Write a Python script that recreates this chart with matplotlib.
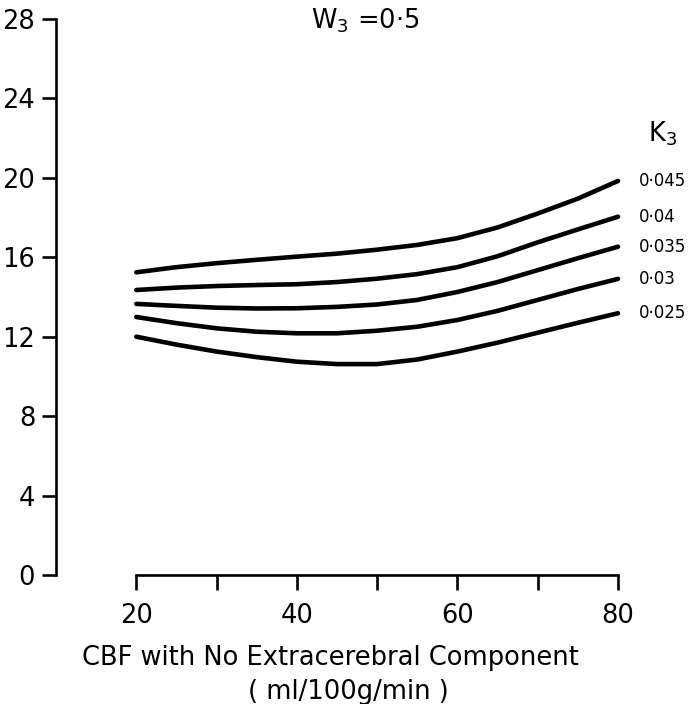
import numpy as np
import matplotlib
matplotlib.use("Agg")
import matplotlib.pyplot as plt

# =========================
# DONNÉES
# =========================

cbf = [20, 25, 30, 35, 40, 45, 50, 55, 60, 65, 70, 75, 80]

k3_labels = ["0·045", "0·04", "0·035", "0·03", "0·025"]

k3_0045 = [15.24, 15.50, 15.70, 15.87, 16.03, 16.18, 16.38, 16.62, 16.96, 17.50, 18.20, 18.95, 19.84]
k3_0040 = [14.35, 14.47, 14.55, 14.60, 14.64, 14.75, 14.92, 15.15, 15.50, 16.05, 16.75, 17.40, 18.04]
k3_0035 = [13.65, 13.55, 13.46, 13.42, 13.43, 13.50, 13.62, 13.85, 14.25, 14.75, 15.35, 15.95, 16.53]
k3_0030 = [12.99, 12.68, 12.42, 12.25, 12.17, 12.17, 12.30, 12.50, 12.84, 13.30, 13.85, 14.40, 14.91]
k3_0025 = [12.00, 11.60, 11.25, 10.97, 10.74, 10.62, 10.62, 10.85, 11.25, 11.70, 12.20, 12.70, 13.18]

series = [k3_0045, k3_0040, k3_0035, k3_0030, k3_0025]

y_ticks = [0, 4, 8, 12, 16, 20, 24, 28]
x_major = [20, 40, 60, 80]
x_minor = [30, 50, 70]

# =========================
# FIGURE
# =========================

plt.rcParams["font.family"] = ["DejaVu Sans"]
FS = 18.5

fig = plt.figure(figsize=(6.89, 7.04), dpi=100)
ax = fig.add_axes([0.0813, 0.1832, 0.8157, 0.790])

for ys, lab in zip(series, k3_labels):
    ax.plot(cbf, ys, color="black", lw=3.3, solid_capstyle="round", clip_on=False)
    ax.text(82.6, ys[-1], lab, fontsize=12, va="center", ha="left", clip_on=False)

ax.text(83.7, 22.2, "K$_3$", fontsize=FS, va="center", ha="left")
ax.text(48.5, 27.9, "W$_3$ =0·5", fontsize=FS, va="center", ha="center")

ax.set_xlim(10, 80)
ax.set_ylim(0, 28)

ax.spines["top"].set_visible(False)
ax.spines["right"].set_visible(False)
for s in ("left", "bottom"):
    ax.spines[s].set_linewidth(1.9)
ax.spines["bottom"].set_bounds(20, 80)
ax.spines["left"].set_bounds(0, 28)

ax.set_yticks(y_ticks)
ax.set_xticks(x_major)
ax.set_xticks(x_minor, minor=True)
ax.tick_params(axis="both", which="both", direction="out", width=1.9, length=9,
               labelsize=FS, pad=6)
ax.tick_params(axis="y", which="both", length=10, pad=5)
ax.tick_params(axis="x", which="both", length=11, pad=9)

fig.text(0.48, 0.065, "CBF with No Extracerebral Component", fontsize=FS,
         ha="center", va="center")
fig.text(0.505, 0.017, "( ml/100g/min )", fontsize=FS, ha="center", va="center")

fig.savefig("out.png", dpi=100)
